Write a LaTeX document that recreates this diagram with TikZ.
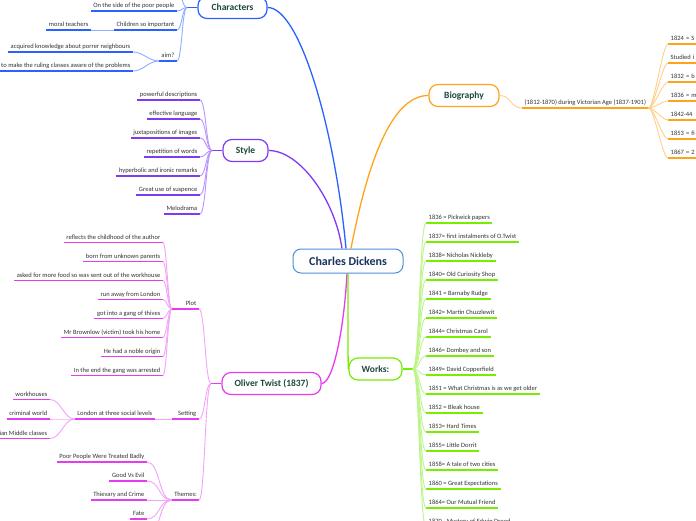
\documentclass[tikz,border=0pt]{standalone}
\usepackage{fontspec}
\setmainfont{Carlito}
\usepackage{xcolor}
\usepackage{tikz}
\usetikzlibrary{calc}

\definecolor{cdC}{HTML}{4A8FD6}
\definecolor{cdText}{HTML}{17325C}
\definecolor{headC}{HTML}{1C4A3C}
\definecolor{leafC}{HTML}{333333}
\definecolor{chrC}{HTML}{2962FF}
\definecolor{chrL}{HTML}{8FAEFF}
\definecolor{styC}{HTML}{7E3BF2}
\definecolor{styL}{HTML}{B994FF}
\definecolor{otC}{HTML}{E63CF0}
\definecolor{otL}{HTML}{F4A3FA}
\definecolor{wkC}{HTML}{76EE00}
\definecolor{wkL}{HTML}{BDF58A}
\definecolor{bioC}{HTML}{FFA31A}
\definecolor{bioL}{HTML}{FFD08A}

\newcommand\leaffont{\fontsize{6.5}{7.5}\selectfont}

\begin{document}
\begin{tikzpicture}[x=1pt, y=-1pt,
    topic/.style={draw=#1, line width=1.2pt, rounded corners=9pt, fill=white,
                  text=headC, font=\fontsize{9.5}{11}\selectfont\bfseries,
                  inner sep=0pt, minimum height=22pt},
    leafR/.style={anchor=south east, text=leafC, font=\leaffont, inner xsep=2.5pt,
                  inner ysep=1.8pt, text height=4.8pt, text depth=1.5pt},
    leafL/.style={leafR, anchor=south west},
    subtopic/.style={leafR, text width=22pt, align=right},
    uline/.style={draw=#1, line width=1.6pt},
    link/.style={draw=#1, line width=0.9pt},
    stem/.style={draw=#1, line width=1.4pt},
    main/.style={draw=#1, line width=1.3pt}
]
\useasboundingbox (0,0) rectangle (696,520);
\fill[white] (0,0) rectangle (696,520);
\clip (0,0) rectangle (696,520);

% Centre and main topics
\node[draw=cdC, line width=1pt, rounded corners=8pt, minimum width=110pt,
      minimum height=24pt, inner sep=0pt, fill=white, text=cdText,
      font=\fontsize{12}{14}\selectfont\bfseries] (cd) at (348,261) {Charles Dickens};

\node[topic=chrC, minimum width=69pt] (chr) at (232.5,7.5) {Characters};
\node[topic=styC, minimum width=45pt] (sty) at (245.5,150.5) {Style};
\node[topic=otC, minimum width=99pt] (ot) at (271.5,383.5) {Oliver Twist (1837)};
\node[topic=wkC, minimum width=53pt] (wk) at (375.5,369) {Works:};
\node[topic=bioC, minimum width=70pt] (bio) at (464,95.5) {Biography};

\draw[main=chrC] ([xshift=-2pt]cd.north) .. controls (335,130) and (300,7.5) .. (chr.east);
\draw[main=styC] ([xshift=-6pt]cd.north) .. controls (335,200) and (300,150.5) .. (sty.east);
\draw[main=bioC] ([xshift=3pt]cd.north) .. controls (370,150) and (395,95.5) .. (bio.west);
\draw[main=otC] ([xshift=-1pt]cd.south) .. controls (344,330) and (333,383.5) .. (ot.east);
\draw[main=wkC] (cd.south) .. controls (348,340) and (348,369) .. (wk.west);

% Characters
\coordinate (chrbp) at (187,7.5);
\coordinate (chTop) at (177,-9);
\draw[stem=chrC] (chr.west) -- (chrbp);
\node[leafR] (chA) at (177,11) {On the side of the poor people};
\node[leafR] (chB) at (177,30) {Children so important};
\node[leafR] (chC) at (177,61) {aim?};
\node[leafR] (chB1) at (91,30) {moral teachers};
\node[leafR] (chC1) at (133,52) {acquired knowledge about porrer neighbours};
\node[leafR] (chC2) at (133,71) {to make the ruling classes aware of the problems};
\foreach \n in {chA,chB,chC,chB1,chC1,chC2}
  \draw[uline=chrC] (\n.south west) -- (\n.south east);
\foreach \n in {chTop,chA.south east,chB.south east,chC.south east}
  \draw[link=chrL] (chrbp) .. controls +(-5,0) and +(5,0) .. (\n);
\draw[link=chrL] (chB.south west) -- (chB1.south east);
\foreach \n in {chC1,chC2}
  \draw[link=chrL] (chC.south west) .. controls +(-10,0) and +(10,0) .. (\n.south east);

% Style
\coordinate (stybp) at (212,150.5);
\draw[stem=styC] (sty.west) -- (stybp);
\foreach \t [count=\i] in {powerful descriptions, effective language,
    juxtapositions of images, repetition of words, hyperbolic and ironic remarks,
    Great use of suspence, Melodrama} {
  \node[leafR] (sty\i) at (200,81+19*\i) {\t};
  \draw[uline=styC] (sty\i.south west) -- (sty\i.south east);
  \draw[link=styL] (stybp) .. controls +(-6,0) and +(6,0) .. (sty\i.south east);
}

% Oliver Twist
\coordinate (otbp) at (211,383.5);
\draw[stem=otC] (ot.west) -- (otbp);
\node[subtopic] (plot) at (199,309) {Plot};
\node[subtopic] (set) at (199,419) {Setting};
\node[subtopic] (thm) at (199,500) {Themes:};
\foreach \n in {plot,set,thm} {
  \draw[uline=otC] (\n.south west) -- (\n.south east);
  \draw[link=otL] (otbp) .. controls +(-6,0) and +(6,0) .. (\n.south east);
}

\foreach \t [count=\i] in {reflects the childhood of the author, born from unknown parents,
    asked for more food so was sent out of the workhouse, run away from London,
    got into a gang of thives, Mr Brownlow (victim) took his home,
    He had a noble origin, In the end the gang was arrested} {
  \node[leafR] (plot\i) at (163,223.5+19*\i) {\t};
  \draw[uline=otC] (plot\i.south west) -- (plot\i.south east);
  \draw[link=otL] (plot.south west) .. controls +(-3.5,0) and +(3.5,0) .. (plot\i.south east);
}

\node[leafR] (lon) at (155,419) {London at three social levels};
\draw[uline=otC] (lon.south west) -- (lon.south east);
\draw[link=otL] (set.south west) -- (lon.south east);
\foreach \t [count=\i] in {workhouses, criminal world, Victorian Middle classes} {
  \node[leafR] (lon\i) at (50,380+19.5*\i) {\t};
  \draw[uline=otC] (lon\i.south west) -- (lon\i.south east);
  \draw[link=otL] (lon.south west) .. controls +(-11,0) and +(11,0) .. (lon\i.south east);
}

\coordinate (thmBot) at (147,538);
\draw[link=otL] (thm.south west) .. controls +(-13,0) and +(13,0) .. (thmBot);
\foreach \t [count=\i] in {Poor People Were Treated Badly, Good Vs Evil,
    Thievary and Crime, Fate} {
  \node[leafR] (thm\i) at (147,443+19*\i) {\t};
  \draw[uline=otC] (thm\i.south west) -- (thm\i.south east);
  \draw[link=otL] (thm.south west) .. controls +(-13,0) and +(13,0) .. (thm\i.south east);
}

% Works
\coordinate (wkbp) at (413,369);
\draw[stem=wkC] (wk.east) -- (wkbp);
\foreach \t [count=\i] in {1836 = Pickwick papers, 1837= first instalments of O.Twist,
    1838= Nicholas Nickleby, 1840= Old Curiosity Shop, 1841 = Barnaby Rudge,
    1842= Martin Chuzzlewit, 1844= Christmas Carol, 1846= Dombey and son,
    1849= David Copperfield, 1851 = What Christmas is as we get older,
    1852 = Bleak house, 1853= Hard Times, 1855= Little Dorrit,
    1858= A tale of two cities, 1860 = Great Expectations,
    1864= Our Mutual Friend, 1870 - Mystery of Edwin Drood} {
  \node[leafL] (wk\i) at (426,204+19*\i) {\t};
  \draw[uline=wkC] (wk\i.south west) -- (wk\i.south east);
  \draw[link=wkL] (wkbp) .. controls +(6.5,0) and +(-6.5,0) .. (wk\i.south west);
}

% Biography
\node[leafL] (life) at (522,108) {(1812-1870) during Victorian Age (1837-1901)};
\draw[link=bioL] (bio.east) .. controls +(12,0) and +(-12,0) .. (life.south west);
\draw[uline=bioC] (life.south west) -- (life.south east);
\foreach \t [count=\i] in {1824 = S, Studied i, 1832 = b, 1836 = m, 1842-44,
    1853 = fi, 1867 = 2} {
  \node[leafL, text width=36pt, align=left] (life\i) at (668,25+19*\i) {\t};
  \draw[uline=bioC] (life\i.south west) -- (life\i.south east);
  \draw[link=bioL] (life.south east) .. controls +(5.5,0) and +(-5.5,0) .. (life\i.south west);
}
\end{tikzpicture}
\end{document}
